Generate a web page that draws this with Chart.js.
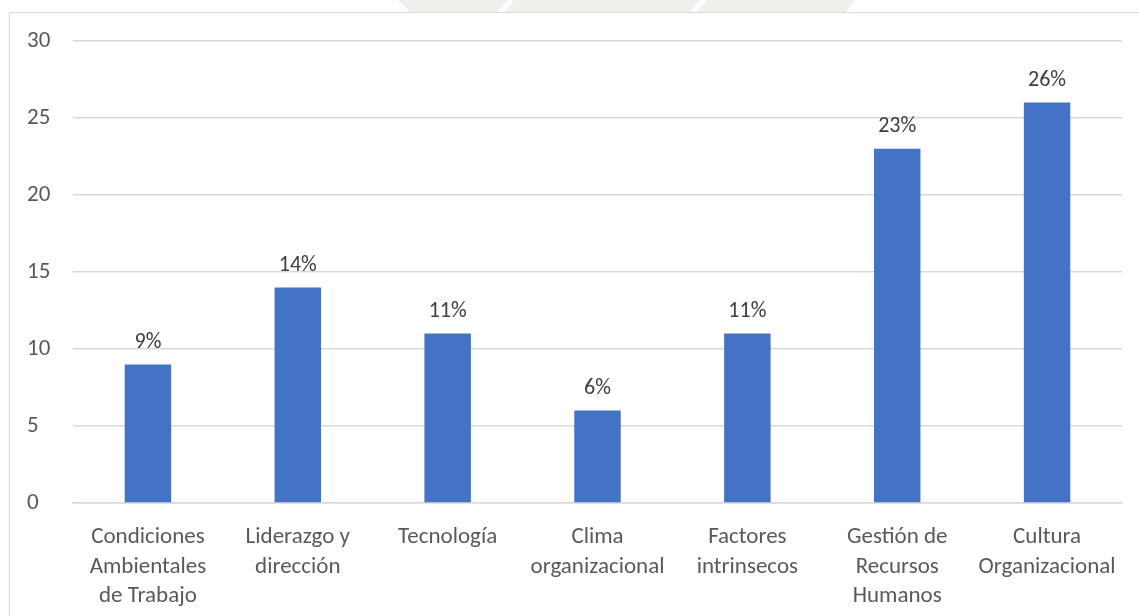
<!DOCTYPE html>
<html>
<head>
<meta charset="utf-8">
<script src="https://cdn.jsdelivr.net/npm/chart.js@4/dist/chart.umd.min.js"></script>
<style>
  html, body { margin: 0; padding: 0; background: #fff; }
  #wrap { position: relative; width: 1139px; height: 616px; }
</style>
</head>
<body>
<div id="wrap"><canvas id="factores"></canvas></div>
<script>
var categorias = [
  ['Condiciones', 'Ambientales', 'de Trabajo'],
  ['Liderazgo y', 'dirección'],
  'Tecnología',
  ['Clima', 'organizacional'],
  ['Factores', 'intrinsecos'],
  ['Gestión de', 'Recursos', 'Humanos'],
  ['Cultura', 'Organizacional']
];
var valores = [9, 14, 11, 6, 11, 23, 26];
var etiquetas = ['9%', '14%', '11%', '6%', '11%', '23%', '26%'];

var fuente = 'Carlito, Lato, "Liberation Sans", sans-serif';

// marco gris y restos del sello de fondo
var marco = {
  id: 'marco',
  beforeDraw: function (chart) {
    var ctx = chart.ctx;
    ctx.save();
    ctx.fillStyle = 'rgba(214, 222, 210, 0.45)';
    ctx.beginPath();
    ctx.moveTo(398, 0); ctx.lineTo(855, 0); ctx.lineTo(846, 12); ctx.lineTo(410, 12);
    ctx.closePath();
    ctx.fill();
    ctx.strokeStyle = '#fff';
    ctx.lineWidth = 5;
    ctx.beginPath();
    ctx.moveTo(512, 0); ctx.lineTo(500, 12);
    ctx.moveTo(705, 0); ctx.lineTo(692, 12);
    ctx.stroke();
    ctx.strokeStyle = '#d9d9d9';
    ctx.lineWidth = 1;
    ctx.beginPath();
    ctx.moveTo(1139, 12.5); ctx.lineTo(9.5, 12.5); ctx.lineTo(9.5, 616);
    ctx.stroke();
    ctx.restore();
  }
};

// porcentaje encima de cada barra
var rotulos = {
  id: 'rotulos',
  afterDatasetsDraw: function (chart) {
    var ctx = chart.ctx;
    var meta = chart.getDatasetMeta(0);
    ctx.save();
    ctx.font = '22px ' + fuente;
    ctx.fillStyle = '#404040';
    ctx.textAlign = 'center';
    ctx.textBaseline = 'middle';
    meta.data.forEach(function (bar, i) {
      ctx.fillText(etiquetas[i], bar.x, bar.y - 22);
    });
    ctx.restore();
  }
};

new Chart(document.getElementById('factores').getContext('2d'), {
  type: 'bar',
  data: {
    labels: categorias,
    datasets: [{
      data: valores,
      backgroundColor: '#4472C4',
      borderWidth: 0,
      barPercentage: 0.62,
      categoryPercentage: 0.5
    }]
  },
  options: {
    responsive: true,
    maintainAspectRatio: false,
    animation: false,
    layout: { padding: { top: 41, right: 17, left: 27, bottom: 0 } },
    scales: {
      x: {
        afterFit: function (scale) { scale.height = 113; },
        grid: { display: false, drawTicks: false },
        border: { display: true, color: '#d9d9d9', width: 1.5 },
        ticks: {
          padding: 20,
          maxRotation: 0,
          autoSkip: false,
          color: '#595959',
          font: { family: fuente, size: 23, lineHeight: 1.28 }
        }
      },
      y: {
        min: 0,
        max: 30,
        afterFit: function (scale) { scale.width = 46; },
        grid: { color: '#d9d9d9', lineWidth: 1.5, drawTicks: false },
        border: { display: false },
        ticks: {
          stepSize: 5,
          crossAlign: 'far',
          padding: 0,
          color: '#595959',
          font: { family: fuente, size: 23 }
        }
      }
    },
    plugins: {
      legend: { display: false },
      tooltip: { enabled: false }
    }
  },
  plugins: [marco, rotulos]
});
</script>
</body>
</html>
